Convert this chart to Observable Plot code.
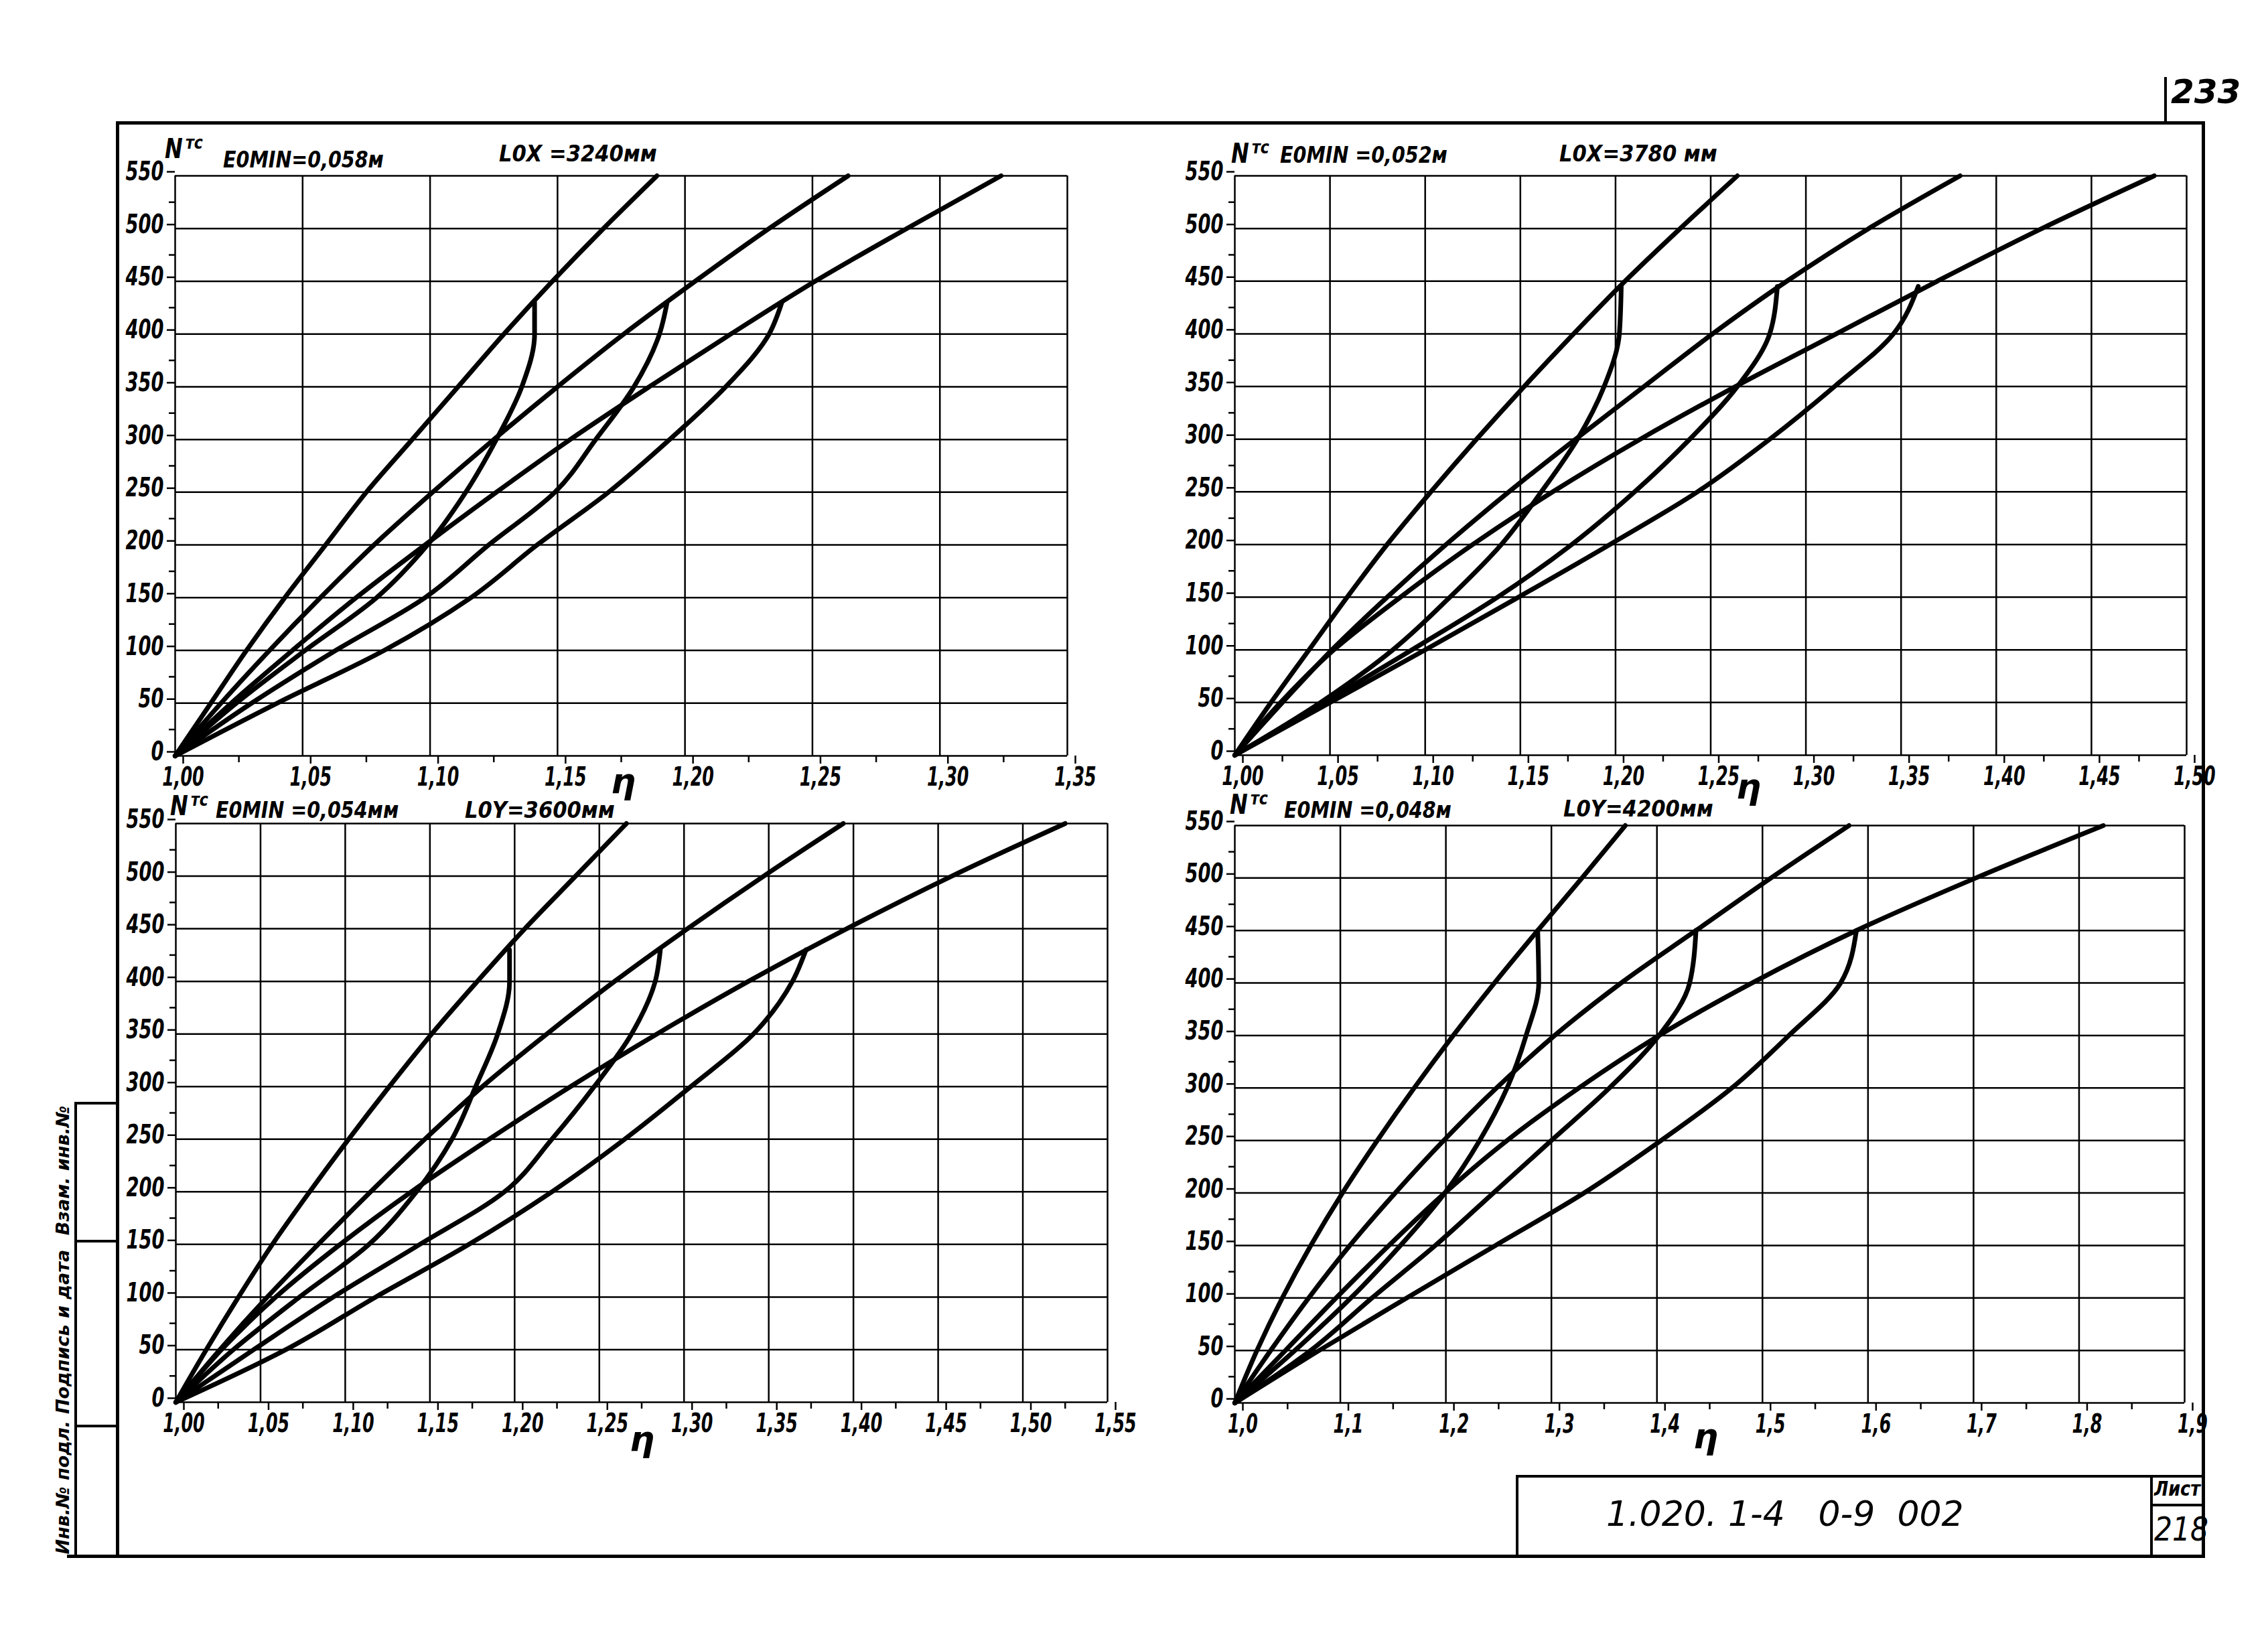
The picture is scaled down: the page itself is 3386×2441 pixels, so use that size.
<!DOCTYPE html>
<html><head><meta charset="utf-8">
<script src="https://cdn.jsdelivr.net/npm/d3@7"></script>
<script src="https://cdn.jsdelivr.net/npm/@observablehq/plot@0.6"></script>
<style>
html,body{margin:0;padding:0;background:#fff;}
body{width:3386px;height:2441px;position:relative;overflow:hidden;
 font-family:"DejaVu Sans",sans-serif;font-style:italic;font-weight:bold;color:#000;}
.t{position:absolute;line-height:1;white-space:pre;transform-origin:0 0;}
.ln{position:absolute;background:#000;}
svg.panel{position:absolute;}
</style></head><body>
<script>
// ---------- DATA ----------
const N_FULL = [0, 50, 100, 150, 200, 250, 300, 350, 400, 450, 500, 550];
const Y_TICKS = [0, 50, 100, 150, 200, 250, 300, 350, 400, 450, 500, 550];

// Panel 1: e0min = 0,058 м, l0x = 3240 мм
const P1_X_TICKS = [1.00, 1.05, 1.10, 1.15, 1.20, 1.25, 1.30, 1.35];
const P1_A = [1.000, 1.014, 1.028, 1.043, 1.059, 1.075, 1.093, 1.111, 1.129, 1.148, 1.168, 1.189];
const P1_B = [1.000, 1.018, 1.037, 1.057, 1.078, 1.101, 1.125, 1.150, 1.176, 1.204, 1.233, 1.264];
const P1_C = [1.000, 1.022, 1.046, 1.071, 1.098, 1.126, 1.155, 1.186, 1.218, 1.251, 1.287, 1.324];
const P1_N_KINK = [0, 50, 100, 150, 200, 250, 300, 350, 400, 430];
const P1_D = [1.000, 1.024, 1.051, 1.079, 1.099, 1.114, 1.126, 1.136, 1.141, 1.141];
const P1_E = [1.000, 1.030, 1.063, 1.098, 1.123, 1.149, 1.165, 1.180, 1.190, 1.193];
const P1_F = [1.000, 1.040, 1.082, 1.116, 1.142, 1.170, 1.194, 1.216, 1.233, 1.238];

// Panel 2: e0min = 0,052 м, l0x = 3780 мм
const P2_X_TICKS = [1.00, 1.05, 1.10, 1.15, 1.20, 1.25, 1.30, 1.35, 1.40, 1.45, 1.50];
const P2_A = [1.000, 1.019, 1.039, 1.059, 1.080, 1.103, 1.127, 1.152, 1.178, 1.205, 1.234, 1.264];
const P2_B = [1.000, 1.025, 1.051, 1.080, 1.111, 1.144, 1.179, 1.215, 1.251, 1.290, 1.333, 1.381];
const P2_C = [1.000, 1.024, 1.052, 1.087, 1.125, 1.167, 1.213, 1.263, 1.316, 1.369, 1.424, 1.483];
const P2_N_KINK = [0, 50, 100, 150, 200, 250, 300, 350, 400, 445];
const P2_D = [1.000, 1.045, 1.083, 1.113, 1.140, 1.161, 1.180, 1.194, 1.202, 1.203];
const P2_E = [1.000, 1.047, 1.093, 1.138, 1.177, 1.210, 1.239, 1.264, 1.281, 1.285];
const P2_F = [1.000, 1.050, 1.100, 1.149, 1.197, 1.243, 1.281, 1.315, 1.346, 1.359];

// Panel 3: e0min = 0,054 мм, l0y = 3600 мм
const P3_X_TICKS = [1.00, 1.05, 1.10, 1.15, 1.20, 1.25, 1.30, 1.35, 1.40, 1.45, 1.50, 1.55];
const P3_A = [1.000, 1.018, 1.037, 1.057, 1.079, 1.102, 1.126, 1.151, 1.178, 1.206, 1.236, 1.266];
const P3_B = [1.000, 1.026, 1.054, 1.084, 1.115, 1.147, 1.181, 1.219, 1.259, 1.302, 1.347, 1.394];
const P3_C = [1.000, 1.027, 1.059, 1.097, 1.139, 1.185, 1.233, 1.284, 1.338, 1.396, 1.458, 1.525];
const P3_N_KINK = [0, 50, 100, 150, 200, 250, 300, 350, 400, 430];
const P3_D = [1.000, 1.034, 1.073, 1.114, 1.142, 1.163, 1.177, 1.190, 1.197, 1.197];
const P3_E = [1.000, 1.046, 1.093, 1.144, 1.194, 1.222, 1.247, 1.269, 1.283, 1.286];
const P3_F = [1.000, 1.065, 1.118, 1.173, 1.222, 1.265, 1.304, 1.341, 1.364, 1.372];

// Panel 4: e0min = 0,048 м, l0y = 4200 мм
const P4_X_TICKS = [1.0, 1.1, 1.2, 1.3, 1.4, 1.5, 1.6, 1.7, 1.8, 1.9];
const P4_A = [1.000, 1.021, 1.045, 1.072, 1.102, 1.135, 1.170, 1.207, 1.246, 1.287, 1.329, 1.370];
const P4_B = [1.000, 1.034, 1.070, 1.109, 1.152, 1.198, 1.248, 1.303, 1.366, 1.437, 1.508, 1.582];
const P4_C = [1.000, 1.048, 1.096, 1.146, 1.199, 1.258, 1.326, 1.402, 1.490, 1.589, 1.702, 1.823];
const P4_N_KINK = [0, 50, 100, 150, 200, 250, 300, 350, 400, 450];
const P4_D = [1.000, 1.057, 1.110, 1.157, 1.199, 1.232, 1.258, 1.276, 1.288, 1.287];
const P4_E = [1.000, 1.072, 1.130, 1.190, 1.245, 1.300, 1.355, 1.402, 1.431, 1.437];
const P4_F = [1.000, 1.080, 1.163, 1.247, 1.331, 1.404, 1.471, 1.525, 1.574, 1.589];

// Texts
const Y_LABEL_MAIN = "N", Y_LABEL_SUB = "тс";
const X_LABEL = "η";
const HEAD_E = ["E0MIN=0,058м", "E0MIN =0,052м", "E0MIN =0,054мм", "E0MIN =0,048м"];
const HEAD_L = ["L0X =3240мм", "L0X=3780 мм", "L0Y=3600мм", "L0Y=4200мм"];
const STAMP = ["Взам. инв.№", "Подпись и дата", "Инв.№ подл."];
const DOC_CODE = "1.020. 1-4   0-9  002";
const SHEET_LABEL = "Лист", SHEET_NO = "218", PAGE_NO = "233";

// ---------- LAYOUT ----------
const FONT = '"DejaVu Sans",sans-serif';
const M = {left: 100, right: 40, top: 20, bottom: 110};
const panels = [
  {xTicks: P1_X_TICKS, dec: 2, curves: [[N_FULL, P1_A], [N_FULL, P1_B], [N_FULL, P1_C], [P1_N_KINK, P1_D], [P1_N_KINK, P1_E], [P1_N_KINK, P1_F]],
   box: {l: 261, t: 262, r: 1593, b: 1128}, eta: [912, 1140],
   head: {n: [246, 202], e: [333, 221], L: [745, 212]}},
  {xTicks: P2_X_TICKS, dec: 2, curves: [[N_FULL, P2_A], [N_FULL, P2_B], [N_FULL, P2_C], [P2_N_KINK, P2_D], [P2_N_KINK, P2_E], [P2_N_KINK, P2_F]],
   box: {l: 1843, t: 262, r: 3264, b: 1127}, eta: [2592, 1148],
   head: {n: [1838, 209], e: [1911, 214], L: [2328, 212]}},
  {xTicks: P3_X_TICKS, dec: 2, curves: [[N_FULL, P3_A], [N_FULL, P3_B], [N_FULL, P3_C], [P3_N_KINK, P3_D], [P3_N_KINK, P3_E], [P3_N_KINK, P3_F]],
   box: {l: 262, t: 1229, r: 1653, b: 2093}, eta: [940, 2122],
   head: {n: [254, 1183], e: [322, 1192], L: [694, 1192]}},
  {xTicks: P4_X_TICKS, dec: 1, curves: [[N_FULL, P4_A], [N_FULL, P4_B], [N_FULL, P4_C], [P4_N_KINK, P4_D], [P4_N_KINK, P4_E], [P4_N_KINK, P4_F]],
   box: {l: 1843, t: 1232, r: 3261, b: 2094}, eta: [2528, 2118],
   head: {n: [1836, 1181], e: [1917, 1192], L: [2334, 1190]}}
];

function addText(txt, x, y, css) {
  const d = document.createElement("div");
  d.className = "t"; d.textContent = txt;
  d.style.left = x + "px"; d.style.top = y + "px";
  Object.assign(d.style, css || {});
  document.body.appendChild(d);
  return d;
}
function addLine(x, y, w, h) {
  const d = document.createElement("div");
  d.className = "ln";
  Object.assign(d.style, {left: x + "px", top: y + "px", width: w + "px", height: h + "px"});
  document.body.appendChild(d);
}
// narrow the library's tick labels to the condensed hand lettering of the drawing
function condense(svg, selector, sx) {
  d3.select(svg).selectAll(selector).each(function () {
    let t = this.getAttribute("transform");
    if (!t) {
      const x = +this.getAttribute("x") || 0, y = +this.getAttribute("y") || 0;
      this.removeAttribute("x"); this.removeAttribute("y");
      t = `translate(${x},${y})`;
    }
    this.setAttribute("transform", `${t} scale(${sx},1)`);
  });
}

panels.forEach((p, i) => {
  const rows = [];
  p.curves.forEach(([ns, xs], k) => ns.forEach((n, j) => rows.push({curve: k, N: n, eta: xs[j]})));
  const fmt = d => d.toFixed(p.dec).replace(".", ",");
  const minorX = d3.pairs(p.xTicks, (a, b) => (a + b) / 2);
  const minorY = d3.pairs(Y_TICKS, (a, b) => (a + b) / 2);
  const W = p.box.r - p.box.l + M.left + M.right;
  const H = p.box.b - p.box.t + M.top + M.bottom;
  const grid = {stroke: "black", strokeOpacity: 1, strokeWidth: 2.5};
  const svg = Plot.plot({
    width: W, height: H,
    marginLeft: M.left, marginRight: M.right, marginTop: M.top, marginBottom: M.bottom,
    x: {domain: [p.xTicks[0], p.xTicks[p.xTicks.length - 1]]},
    y: {domain: [0, 550]},
    style: {background: "transparent", fontFamily: FONT, fontStyle: "italic", fontWeight: "bold",
            fontSize: "39px", color: "black", overflow: "visible", maxWidth: "none"},
    marks: [
      Plot.gridX(p.xTicks, grid),
      Plot.gridY(Y_TICKS, grid),
      Plot.axisX(minorX, {tickSize: 10, tickFormat: () => "", label: null, strokeWidth: 2.5}),
      Plot.axisY(minorY, {tickSize: 9, tickFormat: () => "", label: null, strokeWidth: 2.5}),
      Plot.axisX(p.xTicks, {tickSize: 12, tickPadding: 5, dx: 12, tickFormat: fmt, strokeWidth: 2.5, label: null}),
      Plot.axisY(Y_TICKS, {tickSize: 12, tickPadding: 5, dy: -6, label: null, strokeWidth: 2.5}),
      Plot.line(rows, {x: "eta", y: "N", z: "curve", curve: "monotone-y", stroke: "black", strokeWidth: 7,
        strokeLinejoin: "round", strokeLinecap: "round"})
    ]
  });
  condense(svg, "g[aria-label='x-axis tick label'] text", 0.65);
  condense(svg, "g[aria-label='y-axis tick label'] text", 0.7);
  svg.classList.add("panel");
  svg.style.left = (p.box.l - M.left) + "px";
  svg.style.top = (p.box.t - M.top) + "px";
  document.body.appendChild(svg);

  // headers and axis titles
  addText(Y_LABEL_MAIN, p.head.n[0], p.head.n[1], {fontSize: "40px", transform: "scaleX(0.8)"});
  addText(Y_LABEL_SUB, p.head.n[0] + 31, p.head.n[1] - 2, {fontSize: "26px", transform: "scaleX(0.85)"});
  addText(HEAD_E[i], p.head.e[0], p.head.e[1], {fontSize: "34px", transform: "scaleX(0.84)"});
  addText(HEAD_L[i], p.head.L[0], p.head.L[1], {fontSize: "34px", transform: "scaleX(0.9)"});
  addText(X_LABEL, p.eta[0], p.eta[1], {fontSize: "52px", fontWeight: "bold"});
});

// ---------- SHEET FRAME ----------
const LW = 5;
addLine(173, 181, 3287 - 173 + LW, LW);          // top
addLine(173, 181, LW, 2321 - 181);                // left
addLine(3287, 181, LW, 2321 - 181 + LW);          // right
addLine(100, 2321, 3287 - 100 + LW, LW);          // bottom
addLine(3231, 115, 4, 68);                         // page-number tab
addText(PAGE_NO, 3241, 112, {fontSize: "50px"});

// left stamp
addLine(111, 1645, 4, 2321 - 1645);
[[1645, 1851], [1851, 2127], [2127, 2321]].forEach(([a, b], k) => {
  addLine(111, a, 173 - 111, 4);
  const h = b - a;
  addText(STAMP[k], 93 - h / 2, (a + b) / 2 - 14,
    {width: h + "px", textAlign: "center", fontSize: "27px", transform: "rotate(-90deg)", transformOrigin: "50% 50%"});
});

// title block
addLine(2263, 2202, 3287 - 2263, 4);
addLine(2263, 2202, 4, 2321 - 2202);
addLine(3210, 2202, 4, 2321 - 2202);
addLine(3210, 2245, 3287 - 3210, 4);
addText(DOC_CODE, 2398, 2234, {fontSize: "52px", fontWeight: "normal"});
addText(SHEET_LABEL, 3216, 2208, {fontSize: "30px", transform: "scaleX(0.85)"});
addText(SHEET_NO, 3216, 2258, {fontSize: "50px", fontWeight: "normal", transform: "scaleX(0.85)"});
</script>
</body></html>
